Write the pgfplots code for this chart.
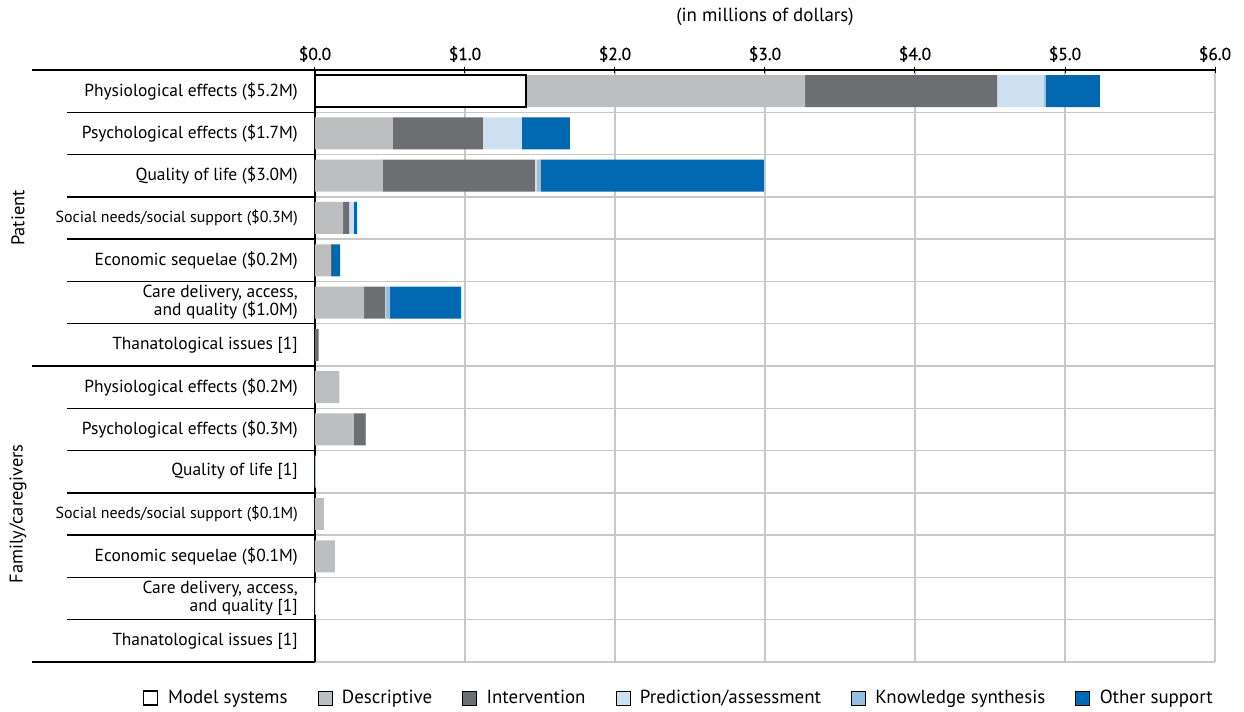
\documentclass[border=0pt]{standalone}
\usepackage{fontspec}
\setmainfont{PT Sans}
\newfontfamily\tickfont{PT Sans}[FakeBold=0.4]
\usepackage{pgfplots}
\pgfplotsset{compat=1.18}
\usepackage{pgfplotstable}
\definecolor{cdesc}{RGB}{189,190,192}
\definecolor{cint}{RGB}{109,110,114}
\definecolor{cpred}{RGB}{204,224,240}
\definecolor{cknow}{RGB}{150,190,225}
\definecolor{coth}{RGB}{0,103,177}
\definecolor{cgrid}{RGB}{200,200,200}
\pgfplotstableread{
y model desc interv pred know other
13 1.407 1.860 1.280 0.313 0.012 0.360
12 0 0.520 0.600 0.260 0 0.320
11 0 0.453 1.013 0.013 0.027 1.487
10 0 0.187 0.040 0.033 0 0.020
9 0 0.107 0 0 0 0.060
8 0 0.327 0.140 0.007 0.027 0.473
7 0 0 0.025 0 0 0
6 0 0.160 0 0.004 0 0
5 0 0.260 0.073 0 0 0.005
4 0 0 0 0 0.006 0
3 0 0.060 0 0 0 0
2 0 0.133 0 0 0 0
1 0 0 0 0.006 0 0
0 0 0 0 0 0 0
}\data
\newcommand\sml[1]{{\fontsize{16}{17}\selectfont #1}}
\begin{document}
\begin{tikzpicture}
\begin{axis}[
  scale only axis, width=900bp, height=592bp,
  xbar stacked, bar width=32bp,
  xmin=0, xmax=6, ymin=-0.5, ymax=13.5,
  clip=false,
  axis line style={draw=none},
  xtick={0,1,2,3,4,5,6},
  xticklabels={\$0.0,\$1.0,\$2.0,\$3.0,\$4.0,\$5.0,\$6.0},
  xtick pos=upper, xticklabel pos=upper,
  xticklabel style={font=\tickfont\fontsize{17.5}{17.5}\selectfont, inner sep=0pt, yshift=5bp},
  tick align=center, major tick length=6bp,
  xtick style={draw=black, line width=1bp},
  xmajorgrids, major grid style={draw=cgrid, line width=1.3bp},
  ytick={0,...,13},
  yticklabels={
    {Thanatological issues [1]},
    {Care delivery, access,\\and quality [1]},
    {Economic sequelae (\$0.1M)},
    {\sml{Social needs/social support (\$0.1M)}},
    {Quality of life [1]},
    {Psychological effects (\$0.3M)},
    {Physiological effects (\$0.2M)},
    {Thanatological issues [1]},
    {Care delivery, access,\\and quality (\$1.0M)},
    {Economic sequelae (\$0.2M)},
    {\sml{Social needs/social support (\$0.3M)}},
    {Quality of life (\$3.0M)},
    {Psychological effects (\$1.7M)},
    {Physiological effects (\$5.2M)}},
  ytick style={draw=none},
  yticklabel style={font=\fontsize{17.5}{18}\selectfont, align=right, inner sep=0pt, xshift=-14bp},
  extra y ticks={-0.5,0.5,1.5,2.5,3.5,4.5,5.5,6.5,7.5,8.5,9.5,10.5,11.5,12.5},
  extra y tick labels={},
  extra y tick style={grid=major, ytick style={draw=none}},
  legend columns=6,
  legend image code/.code={\draw[#1] (0bp,-7bp) rectangle (14bp,7bp);},
  legend style={at={(axis cs:6,-0.5)}, anchor=east, yshift=-36bp, xshift=0bp,
    draw=none, fill=none, inner sep=0pt,
    font=\fontsize{19}{19}\selectfont,
    /tikz/every even column/.append style={column sep=28bp},
    /tikz/every odd column/.append style={column sep=8bp}},
]
\addplot[fill=white, draw=black, line width=1.3bp] table[x=model,y=y]{\data};
\addplot[fill=cdesc, draw=none] table[x=desc,y=y]{\data};
\addplot[fill=cint, draw=none] table[x=interv,y=y]{\data};
\addplot[fill=cpred, draw=none] table[x=pred,y=y]{\data};
\addplot[fill=cknow, draw=none] table[x=know,y=y]{\data};
\addplot[fill=coth, draw=none] table[x=other,y=y]{\data};
\legend{Model systems,Descriptive,Intervention,Prediction/assessment,Knowledge synthesis,Other support}
% frame lines
\draw[line width=1.5bp] ([xshift=-283bp]axis cs:0,13.5) -- (axis cs:6,13.5);
\draw[line width=1.5bp] (axis cs:0,13.5) -- (axis cs:0,-0.5);
\draw[line width=1.5bp] ([xshift=-283bp]axis cs:0,6.5) -- (axis cs:0,6.5);
\draw[line width=1.5bp] ([xshift=-283bp]axis cs:0,-0.5) -- (axis cs:0,-0.5);
\pgfplotsinvokeforeach{0.5,1.5,2.5,3.5,4.5,5.5,7.5,8.5,9.5,10.5,11.5,12.5}{
  \draw[line width=1.3bp] ([xshift=-248bp]axis cs:0,#1) -- (axis cs:0,#1);
}
\node[rotate=90, font=\fontsize{18.5}{18.5}\selectfont] at ([xshift=-297bp]axis cs:0,10) {Patient};
\node[rotate=90, font=\fontsize{18.5}{18.5}\selectfont] at ([xshift=-297bp]axis cs:0,3) {Family/caregivers};
\node[font=\fontsize{19}{19}\selectfont] at ([yshift=53bp]axis cs:3,13.5) {(in millions of dollars)};
\end{axis}
\pgfresetboundingbox
\path (-315bp,-50bp) rectangle (929bp,662bp);
\end{tikzpicture}
\end{document}
